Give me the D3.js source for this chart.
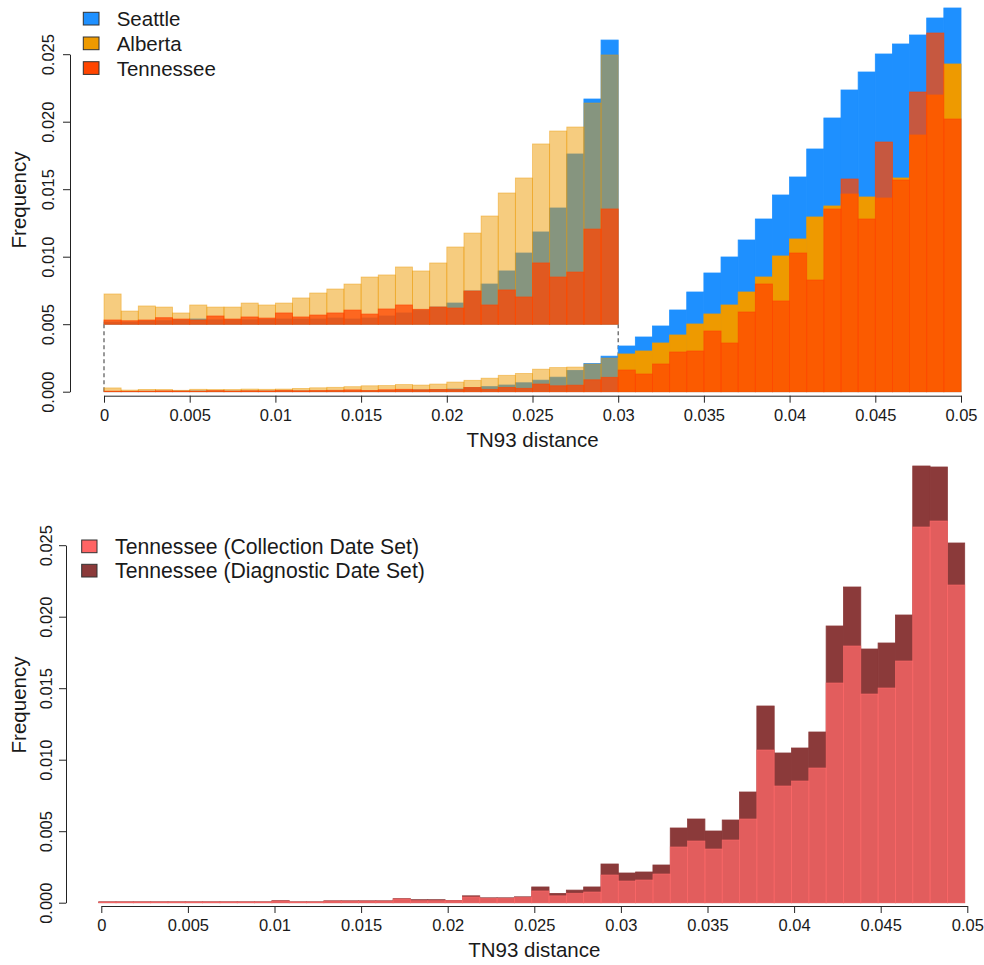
<!DOCTYPE html>
<html>
<head>
<meta charset="utf-8">
<script src="https://cdn.jsdelivr.net/npm/d3@7"></script>
<style>
  body { margin: 0; background: #fff; }
  svg text { font-family: "Liberation Sans", Arial, Helvetica, sans-serif; fill: #1a1a1a; }
</style>
</head>
<body>
<div id="chart"></div>
<script>
// histogram bins are 0.001 wide, 50 bins from 0 to 0.05
const binWidth = 0.001;

// top panel, frequency per bin
const seattle = [0.00002, 0.00002, 0.00003, 0.000032, 0.00004, 0.000048, 0.00004, 0.00004, 0.00004, 0.000045,
  0.000048, 0.000048, 0.000048, 0.000057, 0.000048, 0.000057, 0.000076, 0.000104, 0.000131, 0.000159,
  0.000196, 0.000308, 0.000372, 0.000493, 0.000659, 0.000854, 0.001076, 0.001576, 0.002085, 0.002631,
  0.003385, 0.004052, 0.004867, 0.006052, 0.007385, 0.008793, 0.009978, 0.011237, 0.012793, 0.01457,
  0.015904, 0.017978, 0.020274, 0.022348, 0.023681, 0.025015, 0.025756, 0.026422, 0.027681, 0.028422];
const alberta = [0.00028, 0.000122, 0.000169, 0.000159, 0.000104, 0.000178, 0.000159, 0.000159, 0.000196, 0.000178,
  0.000196, 0.000243, 0.000289, 0.000326, 0.000372, 0.000437, 0.000456, 0.00053, 0.000493, 0.000567,
  0.000715, 0.000844, 0.001002, 0.001215, 0.001354, 0.001669, 0.001789, 0.001826, 0.002048, 0.002493,
  0.002793, 0.003015, 0.003607, 0.0042, 0.005015, 0.005756, 0.006422, 0.007385, 0.008496, 0.010052,
  0.011311, 0.012941, 0.013756, 0.014644, 0.014422, 0.014348, 0.01583, 0.019015, 0.021978, 0.024274];
const tennessee = [0.000039, 0.000032, 0.000039, 0.00006, 0.000048, 0.000039, 0.000076, 0.000048, 0.000067, 0.000057,
  0.000104, 0.000067, 0.000085, 0.000104, 0.000131, 0.000094, 0.000141, 0.000178, 0.000138, 0.000159,
  0.00015, 0.000307, 0.000178, 0.000317, 0.000252, 0.000567, 0.000437, 0.000483, 0.000881, 0.001067,
  0.001607, 0.001311, 0.002052, 0.002941, 0.003015, 0.004496, 0.003607, 0.005904, 0.007978, 0.006719,
  0.010274, 0.008274, 0.013533, 0.015756, 0.012793, 0.018496, 0.015681, 0.0222, 0.02657, 0.0202];

// bottom panel, frequency per bin
const collectionSet = [0.00005, 0.00005, 0.00005, 0.00005, 0.00005, 0.00005, 0.00005, 0.00005, 0.00005, 0.00005,
  0.00012, 0.00005, 0.00005, 0.00011, 0.00011, 0.00011, 0.00011, 0.00026, 0.00014, 0.00014,
  0.00014, 0.0004, 0.0003, 0.0003, 0.00036, 0.00082, 0.00048, 0.00066, 0.000748, 0.001937,
  0.001517, 0.001587, 0.002007, 0.003895, 0.004315, 0.003755, 0.004385, 0.005853, 0.010678, 0.008161,
  0.00851, 0.00942, 0.015364, 0.017951, 0.014594, 0.015014, 0.016902, 0.026273, 0.026692, 0.022217];
const diagnosticSet = [0.00006, 0.00006, 0.00006, 0.00006, 0.00006, 0.00006, 0.00006, 0.00006, 0.00006, 0.00006,
  0.00014, 0.00006, 0.00006, 0.00013, 0.00013, 0.00013, 0.00013, 0.00028, 0.00021, 0.00021,
  0.00016, 0.00048, 0.00034, 0.00034, 0.00041, 0.0011, 0.00065, 0.00088, 0.0011, 0.002706,
  0.002077, 0.002147, 0.002636, 0.005224, 0.005853, 0.005014, 0.005783, 0.007741, 0.013755, 0.010469,
  0.010818, 0.011937, 0.01935, 0.022077, 0.017741, 0.018161, 0.020119, 0.030538, 0.030469, 0.025154];

// ticks and labels
const xTicks = d3.range(11).map(i => i * 0.005);
const yTicks = d3.range(6).map(i => i * 0.005);
const topLegend = ["Seattle", "Alberta", "Tennessee"];
const topColors = ["#1E90FF", "#EE9A00", "#FF4500"];
const bottomLegend = ["Tennessee (Collection Date Set)", "Tennessee (Diagnostic Date Set)"];
const bottomColors = ["#FF6A6A", "#8B3A3A"];

// zoomed inset of the 0-0.03 part, drawn 8x taller on top of the 0.005 line
const insetEnd = 0.03, insetFloor = 0.005, insetFactor = 8;
// the bottom histogram's breaks start slightly left of zero
const bottomOrigin = -0.00015;

const svg = d3.select("#chart").append("svg")
    .attr("width", 984)
    .attr("height", 965);

function drawBars(x, y0, yv, values, origin, color, opacity, maxBin) {
  const g = svg.append("g");
  g.selectAll("rect")
      .data(values.map((v, i) => ({x0: origin + i * binWidth, v: v})).slice(0, maxBin))
    .enter().append("rect")
      .attr("x", d => x(d.x0))
      .attr("width", d => x(d.x0 + binWidth) - x(d.x0))
      .attr("y", d => yv(d.v))
      .attr("height", d => y0 - yv(d.v))
      .attr("fill", color)
      .attr("stroke", color)
      .attr("stroke-width", 0.8)
      .attr("fill-opacity", d => typeof opacity === "function" ? opacity(d) : opacity)
      .attr("stroke-opacity", d => typeof opacity === "function" ? opacity(d) : opacity);
}

function xAxis(x, yPos) {
  const g = svg.append("g")
      .attr("transform", `translate(0,${yPos})`)
      .call(d3.axisBottom(x).tickValues(xTicks).tickSize(7).tickSizeOuter(0)
        .tickFormat(d => d === 0 ? "0" : String(+d.toFixed(3))));
  g.select(".domain").attr("stroke", "#222");
  g.selectAll(".tick line").attr("stroke", "#222");
  g.selectAll(".tick text")
      .attr("y", 25).attr("dy", null)
      .attr("font-size", 16.5);
}

function yAxis(y, xPos, labelX) {
  const g = svg.append("g")
      .attr("transform", `translate(${xPos},0)`)
      .call(d3.axisLeft(y).tickValues(yTicks).tickSize(7).tickSizeOuter(0)
        .tickFormat(d3.format(".3f")));
  g.select(".domain").attr("stroke", "#222");
  g.selectAll(".tick line").attr("stroke", "#222");
  g.selectAll(".tick text")
      .attr("x", null).attr("dy", null)
      .attr("text-anchor", "middle")
      .attr("font-size", 16.5)
      .attr("transform", `translate(${labelX - xPos},0) rotate(-90)`);
}

function legend(labels, colors, x, yTop, step, w, fontSize) {
  labels.forEach((label, i) => {
    svg.append("rect")
        .attr("x", x).attr("y", yTop + i * step)
        .attr("width", w).attr("height", 12.7)
        .attr("fill", colors[i])
        .attr("stroke", "#333").attr("stroke-width", 1);
    svg.append("text")
        .attr("x", x + 33.4).attr("y", yTop + i * step + 13.8)
        .attr("font-size", fontSize)
        .text(label);
  });
}

// ---- top panel ----
const xTop = d3.scaleLinear().domain([0, 0.05]).range([104, 961]);
const yTop = d3.scaleLinear().domain([0, 0.025]).range([391.7, 54.2]);
const yInset = v => yTop(insetFloor + insetFactor * v);
const nInset = Math.round(insetEnd / binWidth);

// dashed guides from the inset down to the axis
[0, insetEnd].forEach(v => {
  svg.append("line")
      .attr("x1", xTop(v)).attr("x2", xTop(v))
      .attr("y1", yTop(insetFloor)).attr("y2", yTop(0))
      .attr("stroke", "#555").attr("stroke-width", 1.2)
      .attr("stroke-dasharray", "4,3");
});

const albertaAlpha = d => d.x0 < insetEnd - 1e-9 ? 0.5 : 1;

// full-scale histograms
drawBars(xTop, yTop(0), yTop, seattle, 0, topColors[0], 1, 50);
drawBars(xTop, yTop(0), yTop, alberta, 0, topColors[1], albertaAlpha, 50);
drawBars(xTop, yTop(0), yTop, tennessee, 0, topColors[2], 0.75, 50);

// magnified inset
drawBars(xTop, yTop(insetFloor), yInset, seattle, 0, topColors[0], 1, nInset);
drawBars(xTop, yTop(insetFloor), yInset, alberta, 0, topColors[1], 0.5, nInset);
drawBars(xTop, yTop(insetFloor), yInset, tennessee, 0, topColors[2], 0.75, nInset);

xAxis(xTop, 395.7);
yAxis(yTop, 70, 54);

svg.append("text")
    .attr("x", (xTop.range()[0] + xTop.range()[1]) / 2).attr("y", 446.7)
    .attr("text-anchor", "middle").attr("font-size", 20.5)
    .text("TN93 distance");
svg.append("text")
    .attr("transform", "translate(26,200) rotate(-90)")
    .attr("text-anchor", "middle").attr("font-size", 20.5)
    .text("Frequency");

legend(topLegend, topColors, 83.3, 12.3, 24.7, 15.7, 20.5);

// ---- bottom panel ----
const xBot = d3.scaleLinear().domain([0, 0.05]).range([101.3, 967.3]);
const yBot = d3.scaleLinear().domain([0, 0.025]).range([902.7, 545.2]);

drawBars(xBot, yBot(0), yBot, diagnosticSet, bottomOrigin, bottomColors[1], 1, 50);
drawBars(xBot, yBot(0), yBot, collectionSet, bottomOrigin, bottomColors[0], 0.75, 50);

xAxis(xBot, 906);
yAxis(yBot, 66, 51.5);

svg.append("text")
    .attr("x", (xBot.range()[0] + xBot.range()[1]) / 2).attr("y", 957)
    .attr("text-anchor", "middle").attr("font-size", 20.5)
    .text("TN93 distance");
svg.append("text")
    .attr("transform", "translate(25.5,705) rotate(-90)")
    .attr("text-anchor", "middle").attr("font-size", 20.5)
    .text("Frequency");

legend(bottomLegend, ["#FF6464", bottomColors[1]], 81.7, 540, 24.3, 15.3, 21.2);
</script>
</body>
</html>
